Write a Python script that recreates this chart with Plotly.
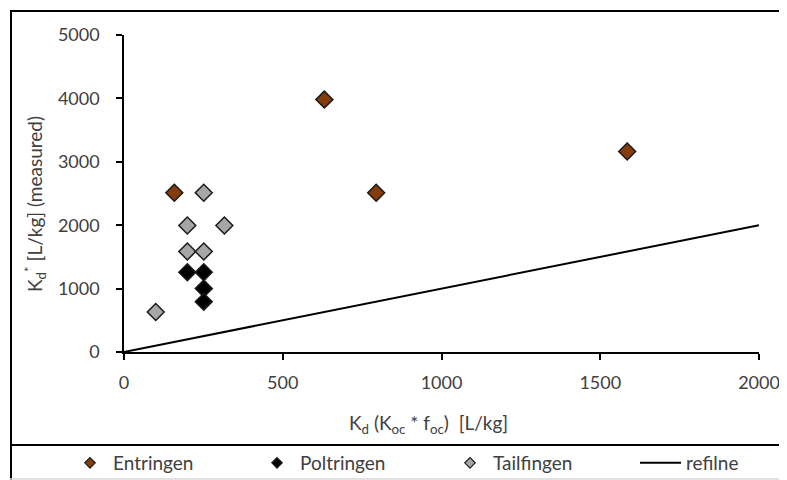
import plotly.graph_objects as go

# ---------------- Data ----------------
entringen_x = [158.5, 631.0, 794.3, 1584.9]
entringen_y = [2511.9, 3981.1, 2511.9, 3162.3]

poltringen_x = [199.5, 251.2, 251.2, 251.2]
poltringen_y = [1258.9, 1258.9, 1000.0, 794.3]

tailfingen_x = [100.0, 251.2, 199.5, 316.2, 199.5, 251.2]
tailfingen_y = [631.0, 2511.9, 1995.3, 1995.3, 1584.9, 1584.9]

ref_x = [0, 2000]
ref_y = [0, 2000]

x_ticks = [0, 500, 1000, 1500, 2000]
y_ticks = [0, 1000, 2000, 3000, 4000, 5000]

series_names = ["Entringen", "Poltringen", "Tailfingen", "refilne"]
colors = ["#843C0C", "#000000", "#A6A6A6"]

x_title = "K<sub>d</sub> (K<sub>oc</sub> * f<sub>oc</sub>)  [L/kg]"
y_title = "K<sub>d</sub><sup>*</sup> [L/kg] (measured)"

# ---------------- Style ----------------
FONT = "Lato, Open Sans, sans-serif"
TXT = "#404040"

OFF = 8  # page body margin
W, H = 779, 472
L, R, T, B = 116, 28, 27, 128
pw, ph = W - L - R, H - T - B


def px_x(sx):
    """screen x -> paper x"""
    return (sx - OFF - L) / pw


def px_y(sy):
    """screen y -> paper y"""
    return (H - B - (sy - OFF)) / ph


fig = go.Figure()

for xs, ys, name, col in [
    (entringen_x, entringen_y, series_names[0], colors[0]),
    (poltringen_x, poltringen_y, series_names[1], colors[1]),
    (tailfingen_x, tailfingen_y, series_names[2], colors[2]),
]:
    fig.add_trace(go.Scatter(
        x=xs, y=ys, mode="markers", name=name, showlegend=False,
        marker=dict(symbol="diamond", size=13, color=col,
                    line=dict(color="#1a1a1a", width=1.5)),
    ))

fig.add_trace(go.Scatter(
    x=ref_x, y=ref_y, mode="lines", name=series_names[3], showlegend=False,
    line=dict(color="#000000", width=2),
))

legend_ids = ["legend", "legend2", "legend3", "legend4"]
legend_starts = [67, 254, 447, 635]
legend_itemwidths = [36, 36, 36, 41]

for i, (name, col) in enumerate(zip(series_names[:3], colors)):
    fig.add_trace(go.Scatter(
        x=[None], y=[None], mode="markers", name=name, legend=legend_ids[i],
        marker=dict(symbol="diamond", size=8, color=col,
                    line=dict(color="#1a1a1a", width=1.2)),
    ))
fig.add_trace(go.Scatter(
    x=[None], y=[None], mode="lines", name=series_names[3], legend=legend_ids[3],
    line=dict(color="#000000", width=2),
))

legend_layout = {}
for lid, start, iw in zip(legend_ids, legend_starts, legend_itemwidths):
    legend_layout[lid] = dict(
        orientation="h", x=px_x(start), xanchor="left",
        y=px_y(463), yanchor="middle",
        font=dict(family=FONT, size=19, color=TXT),
        bgcolor="rgba(0,0,0,0)", borderwidth=0,
        itemwidth=iw,
    )

fig.update_layout(
    width=W, height=H,
    margin=dict(l=L, r=R, t=T, b=B, autoexpand=False),
    paper_bgcolor="white", plot_bgcolor="white",
    font=dict(family=FONT, size=18, color=TXT),
    showlegend=True,
    **legend_layout,
    xaxis=dict(
        range=[0, 2000], tickvals=x_ticks,
        showgrid=False, zeroline=False,
        showline=True, linecolor="#000000", linewidth=1.5,
        ticks="outside", ticklen=6, tickwidth=1.5, tickcolor="#000000",
        tickfont=dict(size=18, color=TXT), ticklabelstandoff=8,
    ),
    yaxis=dict(
        range=[0, 5000], tickvals=y_ticks,
        showgrid=False, zeroline=False,
        showline=True, linecolor="#000000", linewidth=1.5,
        ticks="outside", ticklen=6, tickwidth=1.5, tickcolor="#000000",
        tickfont=dict(size=18, color=TXT), ticklabelstandoff=13,
    ),
    annotations=[
        dict(text=x_title, xref="paper", yref="paper",
             x=px_x(428), y=px_y(424), xanchor="center", yanchor="middle",
             showarrow=False, font=dict(family=FONT, size=19, color=TXT)),
        dict(text=y_title, xref="paper", yref="paper", textangle=-90,
             x=px_x(35), y=px_y(204), xanchor="center", yanchor="middle",
             showarrow=False, font=dict(family=FONT, size=19, color=TXT)),
    ],
    shapes=[
        # outer frame: top, left, bottom (right edge runs off the picture)
        dict(type="line", xref="paper", yref="paper",
             x0=px_x(10), x1=px_x(800), y0=px_y(11), y1=px_y(11),
             line=dict(color="#000000", width=2)),
        dict(type="line", xref="paper", yref="paper",
             x0=px_x(11), x1=px_x(11), y0=px_y(10), y1=px_y(480),
             line=dict(color="#000000", width=2)),
        dict(type="line", xref="paper", yref="paper",
             x0=px_x(10), x1=px_x(800), y0=px_y(479), y1=px_y(479),
             line=dict(color="#d9d9d9", width=1.5)),
        # separator above the legend
        dict(type="line", xref="paper", yref="paper",
             x0=px_x(10), x1=px_x(800), y0=px_y(445), y1=px_y(445),
             line=dict(color="#000000", width=2)),
    ],
)

fig.write_html("out.html")
